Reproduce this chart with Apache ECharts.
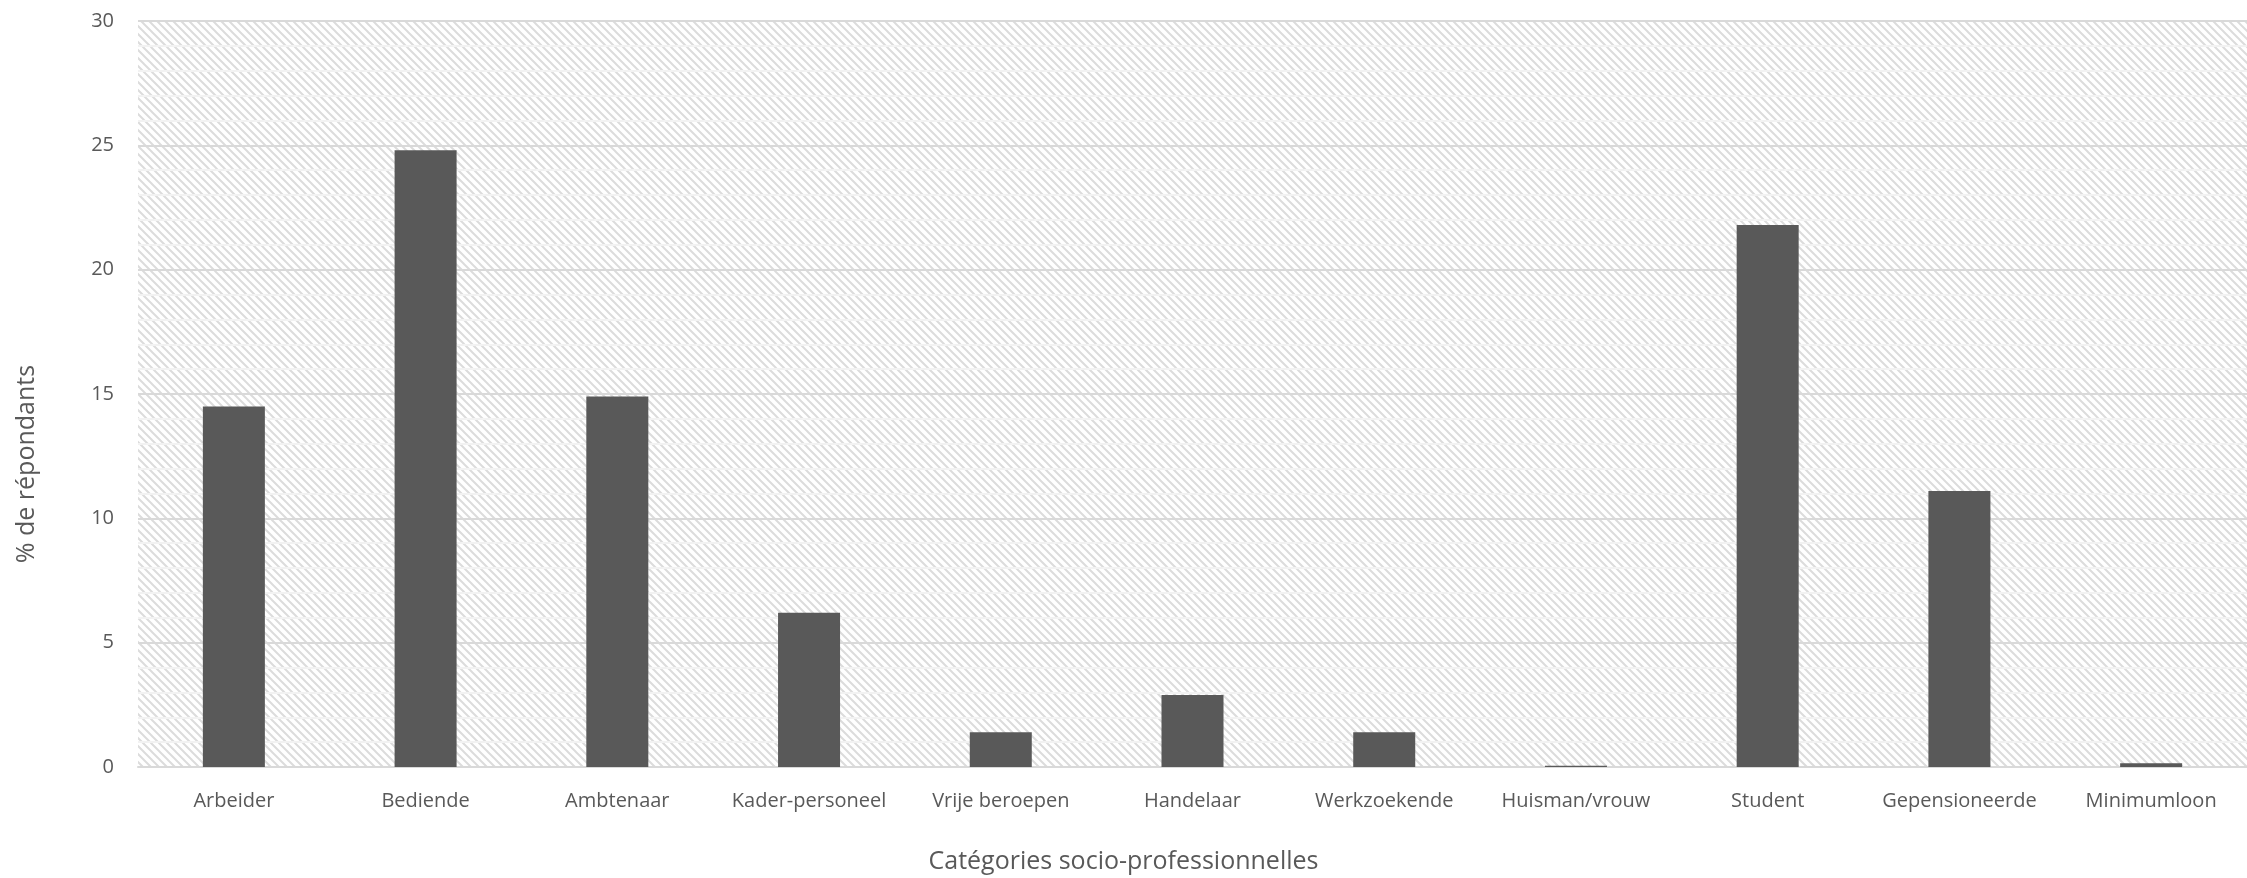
<!DOCTYPE html>
<html>
<head>
<meta charset="utf-8">
<script src="https://cdn.jsdelivr.net/npm/echarts@6/dist/echarts.min.js"></script>
<style>
  html, body { margin: 0; padding: 0; background: #ffffff; overflow: hidden; }
  #chart { width: 2247px; height: 878px; }
</style>
</head>
<body>
<div id="chart"></div>
<script>
// Share of respondents per socio-professional category (%)
const categories = ['Arbeider', 'Bediende', 'Ambtenaar', 'Kader-personeel', 'Vrije beroepen',
  'Handelaar', 'Werkzoekende', 'Huisman/vrouw', 'Student', 'Gepensioneerde', 'Minimumloon'];
const shares = [14.5, 24.8, 14.9, 6.2, 1.4, 2.9, 1.4, 0.05, 21.8, 11.1, 0.15];
const yTicks = { min: 0, max: 30, step: 5 };
const xTitle = 'Catégories socio-professionnelles';
const yTitle = '% de répondants';

// Diagonal hatch tile for the plot background
function hatchTile() {
  const s = 8;
  const c = document.createElement('canvas');
  c.width = s; c.height = s;
  const g = c.getContext('2d');
  g.fillStyle = '#ffffff';
  g.fillRect(0, 0, s, s);
  g.strokeStyle = '#dcdcdc';
  g.lineWidth = 2;
  g.beginPath();
  g.moveTo(-2, -2); g.lineTo(s + 2, s + 2);
  g.moveTo(-2 - s, -2); g.lineTo(2, s + 2);
  g.moveTo(s - 2, -2); g.lineTo(2 * s + 2, s + 2);
  g.stroke();
  return c;
}

const font = '"Open Sans", "Noto Sans", sans-serif';
const chart = echarts.init(document.getElementById('chart'), null, { renderer: 'canvas' });

chart.setOption({
  animation: false,
  backgroundColor: '#ffffff',
  grid: {
    left: 138, right: -12, top: 21, bottom: 111,
    show: true,
    borderWidth: 0,
    backgroundColor: { image: hatchTile(), repeat: 'repeat' }
  },
  xAxis: {
    type: 'category',
    data: categories,
    axisLine: { show: true, lineStyle: { color: '#d9d9d9', width: 2 } },
    axisTick: { show: false },
    axisLabel: { color: '#595959', fontFamily: font, fontSize: 20, margin: 24, interval: 0 }
  },
  yAxis: {
    type: 'value',
    min: yTicks.min, max: yTicks.max, interval: yTicks.step,
    axisLine: { show: false },
    axisTick: { show: false },
    axisLabel: { color: '#595959', fontFamily: font, fontSize: 20, margin: 24 },
    splitLine: { show: true, lineStyle: { color: '#d9d9d9', width: 2 } },
    minorTick: { show: false, splitNumber: 5 },
    minorSplitLine: { show: true, lineStyle: { color: '#f2f2f2', width: 2 } }
  },
  graphic: [
    {
      type: 'text',
      left: 'center',
      top: 849,
      style: { text: xTitle, fill: '#595959', font: '25px ' + font }
    },
    {
      type: 'text',
      x: 27, y: 464,
      rotation: Math.PI / 2,
      style: { text: yTitle, fill: '#595959', font: '25px ' + font, align: 'center', verticalAlign: 'middle' }
    }
  ],
  series: [{
    type: 'bar',
    data: shares,
    barWidth: 62,
    itemStyle: { color: '#595959' }
  }]
});
</script>
</body>
</html>
